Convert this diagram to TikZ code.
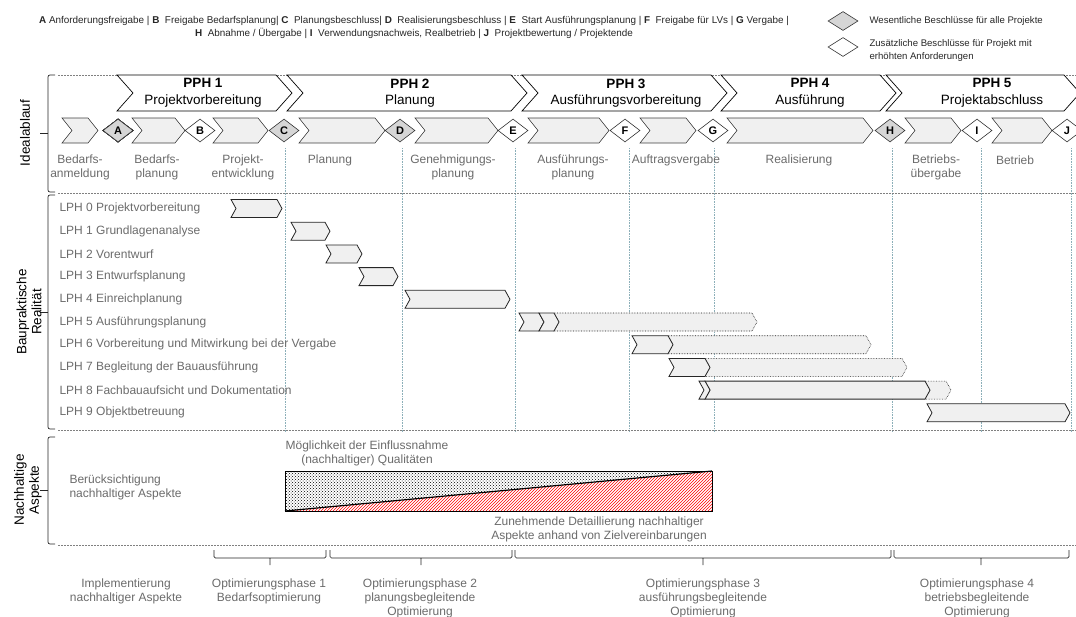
\documentclass[tikz,border=0pt]{standalone}
\usepackage{fontspec}
\setmainfont{Liberation Sans}
\usetikzlibrary{shapes.geometric, patterns, positioning}

\definecolor{labelgray}{gray}{0.42}
\definecolor{stepfill}{gray}{0.94}
\definecolor{keyfill}{gray}{0.84}
\definecolor{gridcol}{RGB}{140,175,185}
\definecolor{sepcol}{gray}{0.5}

\newcommand{\lblfont}{\fontsize{12}{14}\selectfont}
\newcommand{\keyfont}{\fontsize{9.6}{13}\selectfont}
% chevron: [style]{left x}{tip x}{mid y}{half height}{depth}
\newcommand{\chevron}[6][]{%
  \draw[#1] (#2,{#4-#5}) -- ({#3-#6},{#4-#5}) -- (#3,#4) -- ({#3-#6},{#4+#5})
    -- (#2,{#4+#5}) -- ({#2+#6},#4) -- cycle;}

\tikzset{
  pphbox/.style={draw=black, fill=white, line width=0.7pt}, % project phases
  stepbox/.style={draw=black!75, fill=stepfill, line width=0.6pt}, % ideal steps
  lphbar/.style={draw=black!85, fill=stepfill, line width=0.8pt}, % solid LPH bars
  lphext/.style={draw=black!90, fill=stepfill, densely dotted, line width=0.6pt}, % dotted extensions
  gatekey/.style={diamond, draw=black!80, fill=keyfill, line width=0.6pt, inner sep=0pt,
    minimum width=30pt, minimum height=23pt, font=\bfseries\fontsize{11}{11}\selectfont},
  gateopt/.style={gatekey, fill=white},
  steplabel/.style={text=labelgray, font=\lblfont, align=center},
  legendtext/.style={font=\keyfont, text=black!85},
  axislabel/.style={rotate=90, align=center, font=\fontsize{13.5}{15}\selectfont},
  gridline/.style={gridcol, densely dotted, line width=0.6pt},
  sepline/.style={sepcol, dash pattern=on 2pt off 1pt, line width=0.6pt},
  bracket/.style={black!85, line width=0.7pt, rounded corners=2pt},
}

\begin{document}
\begin{tikzpicture}[x=1pt, y=-1pt]
\useasboundingbox (0,0) rectangle (1076,616);

% legend
\node[legendtext, align=center, font=\fontsize{9.9}{13}\selectfont] (legend) at (414,27) {%
  \textbf{A} Anforderungsfreigabe | \textbf{B}~ Freigabe Bedarfsplanung| \textbf{C}~ Planungsbeschluss| \textbf{D}~ Realisierungsbeschluss | \textbf{E}~ Start Ausführungsplanung | \textbf{F}~ Freigabe für LVs | \textbf{G} Vergabe |\\
  \textbf{H}~ Abnahme / Übergabe | \textbf{I}~ Verwendungsnachweis, Realbetrieb | \textbf{J}~ Projektbewertung / Projektende};
\node[gatekey, minimum width=30pt, minimum height=19pt] (keymain) at (843,21) {};
\node[gateopt, minimum width=30pt, minimum height=19pt] (keyextra) at (843,47) {};
\node[legendtext, anchor=west] (keymaintext) at (866,21) {Wesentliche Beschlüsse für alle Projekte};
\node[legendtext, anchor=west, align=left] (keyextratext) at (866,51) {Zusätzliche Beschlüsse für Projekt mit\\erhöhten Anforderungen};

% grid and separators
\foreach \gx in {285,402,515,629,714,892,981,1071}
  \draw[gridline] (\gx,148) -- (\gx,432);
\foreach \sy in {75,193,430,545}
  \draw[sepline] (58,\sy) -- (1076,\sy);

% side brackets
\draw[bracket] (55,75) -- (48,75) -- (48,192) -- (55,192);
\draw[bracket] (48,133) -- (40,133);
\draw[bracket] (55,195) -- (48,195) -- (48,429) -- (55,429);
\draw[bracket] (48,312) -- (40,312);
\draw[bracket] (55,437) -- (48,437) -- (48,544) -- (55,544);
\draw[bracket] (48,490) -- (40,490);
\node[axislabel] (ideal) at (25,133) {Idealablauf};
\node[axislabel] (real) at (29,312) {Baupraktische\\Realität};
\node[axislabel] (nachh) at (28,490) {Nachhaltige\\Aspekte};

% project phases
\chevron[pphbox]{117}{292}{93}{18}{16}
\chevron[pphbox]{287}{527}{93}{18}{16}
\chevron[pphbox]{522}{727}{93}{18}{16}
\chevron[pphbox]{721}{896}{93}{18}{16}
\chevron[pphbox]{886}{1080}{93}{18}{16}
\foreach \px/\pn/\pt in {203/1/Projektvorbereitung, 410/2/Planung, 626/3/Ausführungsvorbereitung,
    810/4/Ausführung, 992/5/Projektabschluss}
  \node[align=center, font=\fontsize{13.5}{16.5}\selectfont] (pph\pn) at (\px,93) {\textbf{PPH \pn}\\\pt};

% ideal steps
\foreach \xl/\xr in {62/98, 132/185, 213/268, 299/385, 415/498, 528/609, 640/696, 727/873, 905/961, 992/1052}
  \chevron[stepbox]{\xl}{\xr}{130.5}{12.5}{10}
\node[gatekey] (gA) at (118,130.5) {A};
\node[gateopt] (gB) at (200,130.5) {B};
\node[gatekey] (gC) at (284,130.5) {C};
\node[gatekey] (gD) at (400,130.5) {D};
\node[gateopt] (gE) at (513,130.5) {E};
\node[gateopt] (gF) at (625,130.5) {F};
\node[gateopt] (gG) at (713,130.5) {G};
\node[gatekey] (gH) at (890,130.5) {H};
\node[gateopt] (gI) at (977,130.5) {I};
\node[gateopt] (gJ) at (1067,130.5) {J};

\node[steplabel] (sAnm) at (80,167) {Bedarfs-\\anmeldung};
\node[steplabel] (sBed) at (157,167) {Bedarfs-\\planung};
\node[steplabel] (sEnt) at (243,167) {Projekt-\\entwicklung};
\node[steplabel] (sPla) at (330,160) {Planung};
\node[steplabel] (sGen) at (453,167) {Genehmigungs-\\planung};
\node[steplabel] (sAus) at (573,167) {Ausführungs-\\planung};
\node[steplabel] (sVer) at (676,160) {Auftragsvergabe};
\node[steplabel] (sRea) at (799,160) {Realisierung};
\node[steplabel] (sUeb) at (936,167) {Betriebs-\\übergabe};
\node[steplabel] (sBet) at (1015,160) {Betrieb};

% LPH rows
\foreach \i/\lt in {0/Projektvorbereitung, 1/Grundlagenanalyse, 2/Vorentwurf, 3/Entwurfsplanung,
    4/Einreichplanung, 5/Ausführungsplanung, 6/Vorbereitung und Mitwirkung bei der Vergabe,
    7/Begleitung der Bauausführung, 8/Fachbauaufsicht und Dokumentation, 9/Objektbetreuung}
  \node[steplabel, anchor=west] (lph\i) at (56,{208.5+22.7*\i}) {LPH \i\ \lt};

\chevron[lphbar]{231}{282}{208.5}{9}{5}
\chevron[lphbar]{291}{330}{231.2}{9}{5}
\chevron[lphbar]{326}{362}{253.9}{9}{5}
\chevron[lphbar]{359}{398}{276.6}{9}{5}
\chevron[lphbar]{405}{510}{299.3}{9}{5}
\chevron[lphext]{554}{757}{322}{9}{5}
\chevron[lphbar]{519}{544}{322}{9}{5}
\chevron[lphbar]{539}{559}{322}{9}{5}
\chevron[lphext]{668}{871}{344.7}{9}{5}
\chevron[lphbar]{632}{673}{344.7}{9}{5}
\chevron[lphext]{705}{907}{367.4}{9}{5}
\chevron[lphbar]{669}{710}{367.4}{9}{5}
\chevron[lphext]{925}{951}{390.1}{9}{5}
\chevron[lphbar]{705}{930}{390.1}{9}{5}
\chevron[lphbar]{699}{710}{390.1}{9}{5}
\chevron[lphbar]{927}{1070}{412.8}{9}{5}

% sustainability
\fill[pattern=crosshatch dots] (285,471) -- (712,471) -- (285,511) -- cycle;
\fill[pattern=north east lines, pattern color=red] (285,511) -- (712,471) -- (712,511) -- cycle;
\draw[black, line width=0.7pt] (285,471) rectangle (712,511);
\draw[black, line width=1.2pt] (285,511) -- (712,471);
\node[steplabel] (moegl) at (367,453) {Möglichkeit der Einflussnahme\\(nachhaltiger) Qualitäten};
\node[steplabel, anchor=west, align=left] (beruecks) at (66,487) {Berücksichtigung\\nachhaltiger Aspekte};
\node[steplabel] (detail) at (599,529) {Zunehmende Detaillierung nachhaltiger\\Aspekte anhand von Zielvereinbarungen};

% optimisation phases
\foreach \bl/\bm/\br in {214/270/326, 330/421/512, 515/703/891, 894/981/1069}
  \draw[bracket, rounded corners=1.5pt] (\bl,550) -- (\bl,558) -- (\br,558) -- (\br,550) (\bm,558) -- (\bm,565);
\node[steplabel] (impl) at (126,591) {Implementierung\\nachhaltiger Aspekte};
\node[steplabel] (opt1) at (269,591) {Optimierungsphase 1\\Bedarfsoptimierung};
\node[steplabel] (opt2) at (420,598) {Optimierungsphase 2\\planungsbegleitende\\Optimierung};
\node[steplabel] (opt3) at (703,598) {Optimierungsphase 3\\ausführungsbegleitende\\Optimierung};
\node[steplabel] (opt4) at (977,598) {Optimierungsphase 4\\betriebsbegleitende\\Optimierung};
\end{tikzpicture}
\end{document}
